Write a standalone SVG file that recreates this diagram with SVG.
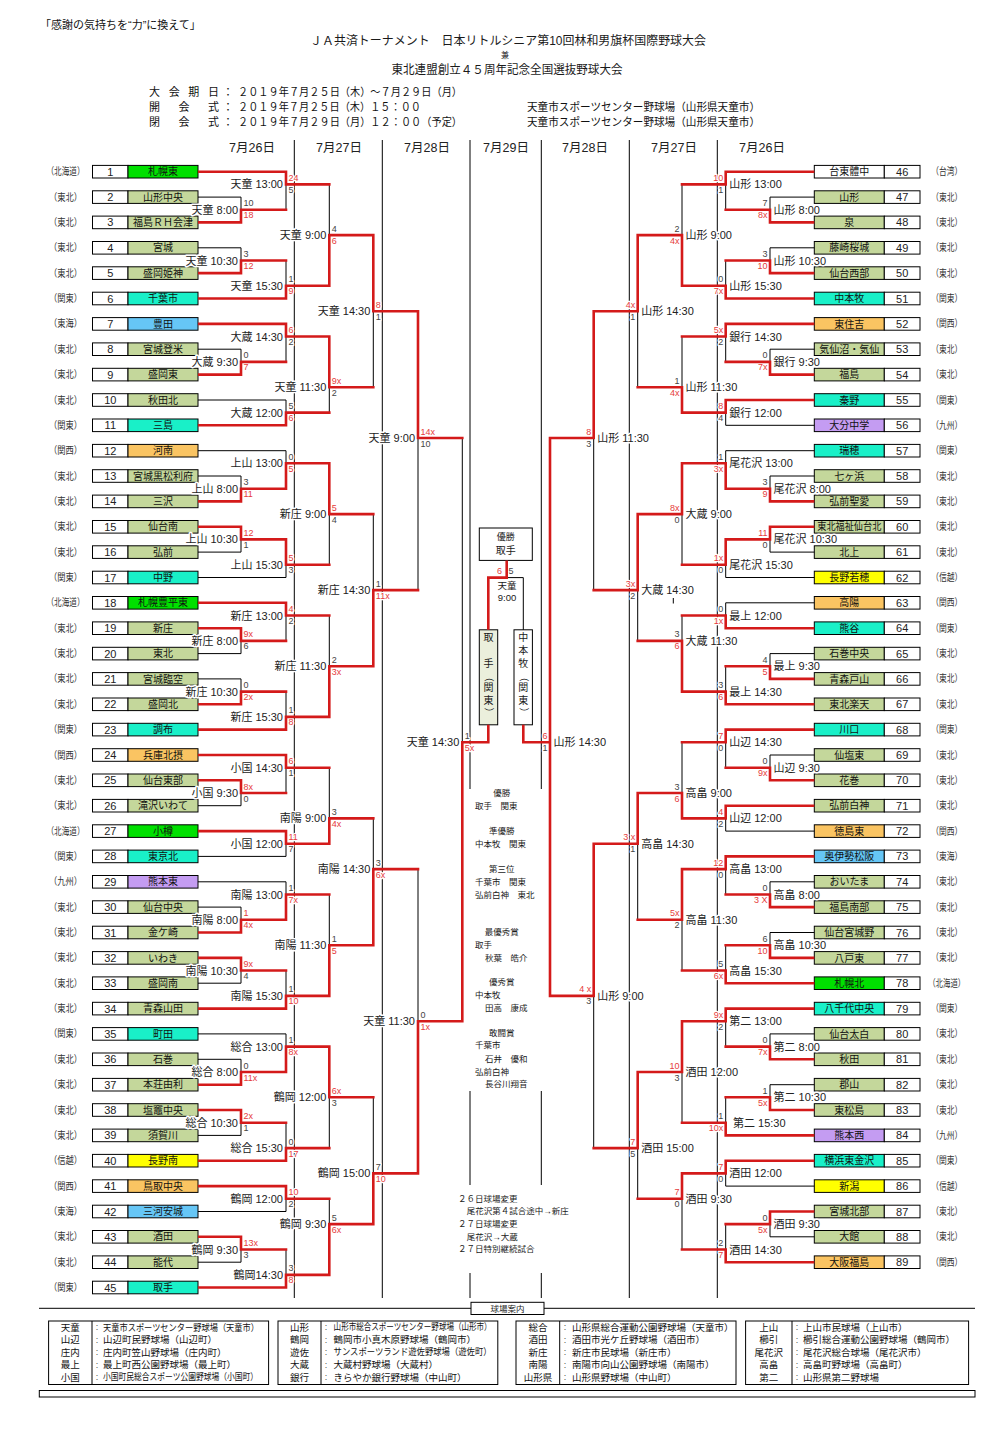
<svg xmlns="http://www.w3.org/2000/svg" width="1008" height="1432" viewBox="0 0 1008 1432">
<style>
text{font-family:"Liberation Sans","Noto Sans CJK JP",sans-serif;fill:#1a1a1a}
.reg{font-size:10px;text-anchor:middle;fill:#333}
.num{font-size:11px;text-anchor:middle;fill:#222}
.nm{font-size:10px;text-anchor:middle;fill:#111}
.b{stroke:#000;stroke-width:1}
.wh{fill:#fff}.ol{fill:#c4d79b}.gr{fill:#00e000}.cy{fill:#19f0c8}.or{fill:#fac462}.bl{fill:#66c6f6}.pu{fill:#c49cf2}.ye{fill:#ffff00}.fg{fill:#ebefdc}
.sep{stroke:#000;stroke-width:1;fill:none}
.bk{stroke:#000;stroke-width:1;fill:none}
.rd{stroke:#d41a1a;stroke-width:2.6;fill:none;stroke-linecap:square}
.lb{font-size:11px;fill:#222;stroke:#fff;stroke-width:3;paint-order:stroke;stroke-linejoin:round}
.s{font-size:9px;fill:#444;stroke:#fff;stroke-width:2.4;paint-order:stroke;stroke-linejoin:round}
.r{fill:#e63b3b}
.e{text-anchor:end}
.c{text-anchor:middle}
.day{font-size:12.5px;text-anchor:middle;fill:#222}
.aw{font-size:8.5px;fill:#222}
.ft{font-size:9.5px;fill:#111}
.co{font-size:7px;fill:#555;text-anchor:middle}
.hd{font-size:11px;fill:#111}
</style>
<rect width="1008" height="1432" fill="#fff"/>

<g id="header">
<text class="hd" x="40" y="29">「感謝の気持ちを“力”に換えて」</text>
<text x="508" y="45" font-size="12" text-anchor="middle" textLength="396" lengthAdjust="spacingAndGlyphs">ＪＡ共済トーナメント　日本リトルシニア第10回林和男旗杯国際野球大会</text>
<text x="505" y="57.5" font-size="8" text-anchor="middle">兼</text>
<text x="507" y="74" font-size="12" text-anchor="middle" textLength="231" lengthAdjust="spacingAndGlyphs">東北連盟創立４５周年記念全国選抜野球大会</text>
<text class="hd" x="149" y="96" textLength="70" lengthAdjust="spacing">大 会 期 日</text>
<text class="hd" x="228" y="96" text-anchor="middle">：</text>
<text class="hd" x="238" y="96" textLength="224" lengthAdjust="spacingAndGlyphs">２０１９年７月２５日（木）～７月２９日（月）</text>
<text class="hd" x="149" y="111" textLength="70" lengthAdjust="spacing">開　会　式</text>
<text class="hd" x="228" y="111" text-anchor="middle">：</text>
<text class="hd" x="238" y="111" textLength="183" lengthAdjust="spacingAndGlyphs">２０１９年７月２５日（木）１５：００</text>
<text class="hd" x="149" y="126" textLength="70" lengthAdjust="spacing">閉　会　式</text>
<text class="hd" x="228" y="126" text-anchor="middle">：</text>
<text class="hd" x="238" y="126" textLength="224" lengthAdjust="spacingAndGlyphs">２０１９年７月２９日（月）１２：００（予定）</text>
<text class="hd" x="527" y="111" textLength="233" lengthAdjust="spacingAndGlyphs">天童市スポーツセンター野球場（山形県天童市）</text>
<text class="hd" x="527" y="126" textLength="233" lengthAdjust="spacingAndGlyphs">天童市スポーツセンター野球場（山形県天童市）</text>
</g>

<g id="days">
<text class="day" x="252" y="151.5">7月26日</text>
<text class="day" x="339" y="151.5">7月27日</text>
<text class="day" x="427" y="151.5">7月28日</text>
<text class="day" x="506" y="151.5">7月29日</text>
<text class="day" x="585" y="151.5">7月28日</text>
<text class="day" x="674" y="151.5">7月27日</text>
<text class="day" x="762" y="151.5">7月26日</text>
</g>

<g id="separators">
<path class="sep" d="M294.3,140V1298M382.3,140V1298M629.3,140V1298M717.3,140V1298M470,140V789M470,1091V1185M470,1273V1298M541.3,140V789M541.3,1091V1185M541.3,1273V1298M673.3,598V603.5"/>
</g>

<g id="teams-left">
<g id="t1" transform="translate(0,171.7)"><text class="reg" x="65.5" y="3.5" textLength="38" lengthAdjust="spacingAndGlyphs">（北海道）</text><rect class="b wh" x="92.5" y="-6.3" width="35.5" height="12.6"/><rect class="b gr" x="128" y="-6.3" width="70" height="12.6"/><text class="num" x="110.3" y="4">1</text><text class="nm" x="163" y="3.6">札幌東</text></g>
<g id="t2" transform="translate(0,197.1)"><text class="reg" x="65.5" y="3.5" textLength="33" lengthAdjust="spacingAndGlyphs">（東北）</text><rect class="b wh" x="92.5" y="-6.3" width="35.5" height="12.6"/><rect class="b ol" x="128" y="-6.3" width="70" height="12.6"/><text class="num" x="110.3" y="4">2</text><text class="nm" x="163" y="3.6">山形中央</text></g>
<g id="t3" transform="translate(0,222.4)"><text class="reg" x="65.5" y="3.5" textLength="33" lengthAdjust="spacingAndGlyphs">（東北）</text><rect class="b wh" x="92.5" y="-6.3" width="35.5" height="12.6"/><rect class="b ol" x="128" y="-6.3" width="70" height="12.6"/><text class="num" x="110.3" y="4">3</text><text class="nm" x="163" y="3.6">福島ＲＨ会津</text></g>
<g id="t4" transform="translate(0,247.8)"><text class="reg" x="65.5" y="3.5" textLength="33" lengthAdjust="spacingAndGlyphs">（東北）</text><rect class="b wh" x="92.5" y="-6.3" width="35.5" height="12.6"/><rect class="b ol" x="128" y="-6.3" width="70" height="12.6"/><text class="num" x="110.3" y="4">4</text><text class="nm" x="163" y="3.6">宮城</text></g>
<g id="t5" transform="translate(0,273.1)"><text class="reg" x="65.5" y="3.5" textLength="33" lengthAdjust="spacingAndGlyphs">（東北）</text><rect class="b wh" x="92.5" y="-6.3" width="35.5" height="12.6"/><rect class="b ol" x="128" y="-6.3" width="70" height="12.6"/><text class="num" x="110.3" y="4">5</text><text class="nm" x="163" y="3.6">盛岡姫神</text></g>
<g id="t6" transform="translate(0,298.5)"><text class="reg" x="65.5" y="3.5" textLength="33" lengthAdjust="spacingAndGlyphs">（関東）</text><rect class="b wh" x="92.5" y="-6.3" width="35.5" height="12.6"/><rect class="b cy" x="128" y="-6.3" width="70" height="12.6"/><text class="num" x="110.3" y="4">6</text><text class="nm" x="163" y="3.6">千葉市</text></g>
<g id="t7" transform="translate(0,323.9)"><text class="reg" x="65.5" y="3.5" textLength="33" lengthAdjust="spacingAndGlyphs">（東海）</text><rect class="b wh" x="92.5" y="-6.3" width="35.5" height="12.6"/><rect class="b bl" x="128" y="-6.3" width="70" height="12.6"/><text class="num" x="110.3" y="4">7</text><text class="nm" x="163" y="3.6">豊田</text></g>
<g id="t8" transform="translate(0,349.2)"><text class="reg" x="65.5" y="3.5" textLength="33" lengthAdjust="spacingAndGlyphs">（東北）</text><rect class="b wh" x="92.5" y="-6.3" width="35.5" height="12.6"/><rect class="b ol" x="128" y="-6.3" width="70" height="12.6"/><text class="num" x="110.3" y="4">8</text><text class="nm" x="163" y="3.6">宮城登米</text></g>
<g id="t9" transform="translate(0,374.6)"><text class="reg" x="65.5" y="3.5" textLength="33" lengthAdjust="spacingAndGlyphs">（東北）</text><rect class="b wh" x="92.5" y="-6.3" width="35.5" height="12.6"/><rect class="b ol" x="128" y="-6.3" width="70" height="12.6"/><text class="num" x="110.3" y="4">9</text><text class="nm" x="163" y="3.6">盛岡東</text></g>
<g id="t10" transform="translate(0,400)"><text class="reg" x="65.5" y="3.5" textLength="33" lengthAdjust="spacingAndGlyphs">（東北）</text><rect class="b wh" x="92.5" y="-6.3" width="35.5" height="12.6"/><rect class="b ol" x="128" y="-6.3" width="70" height="12.6"/><text class="num" x="110.3" y="4">10</text><text class="nm" x="163" y="3.6">秋田北</text></g>
<g id="t11" transform="translate(0,425.3)"><text class="reg" x="65.5" y="3.5" textLength="33" lengthAdjust="spacingAndGlyphs">（関東）</text><rect class="b wh" x="92.5" y="-6.3" width="35.5" height="12.6"/><rect class="b cy" x="128" y="-6.3" width="70" height="12.6"/><text class="num" x="110.3" y="4">11</text><text class="nm" x="163" y="3.6">三島</text></g>
<g id="t12" transform="translate(0,450.7)"><text class="reg" x="65.5" y="3.5" textLength="33" lengthAdjust="spacingAndGlyphs">（関西）</text><rect class="b wh" x="92.5" y="-6.3" width="35.5" height="12.6"/><rect class="b or" x="128" y="-6.3" width="70" height="12.6"/><text class="num" x="110.3" y="4">12</text><text class="nm" x="163" y="3.6">河南</text></g>
<g id="t13" transform="translate(0,476)"><text class="reg" x="65.5" y="3.5" textLength="33" lengthAdjust="spacingAndGlyphs">（東北）</text><rect class="b wh" x="92.5" y="-6.3" width="35.5" height="12.6"/><rect class="b ol" x="128" y="-6.3" width="70" height="12.6"/><text class="num" x="110.3" y="4">13</text><text class="nm" x="163" y="3.6">宮城黒松利府</text></g>
<g id="t14" transform="translate(0,501.4)"><text class="reg" x="65.5" y="3.5" textLength="33" lengthAdjust="spacingAndGlyphs">（東北）</text><rect class="b wh" x="92.5" y="-6.3" width="35.5" height="12.6"/><rect class="b ol" x="128" y="-6.3" width="70" height="12.6"/><text class="num" x="110.3" y="4">14</text><text class="nm" x="163" y="3.6">三沢</text></g>
<g id="t15" transform="translate(0,526.8)"><text class="reg" x="65.5" y="3.5" textLength="33" lengthAdjust="spacingAndGlyphs">（東北）</text><rect class="b wh" x="92.5" y="-6.3" width="35.5" height="12.6"/><rect class="b ol" x="128" y="-6.3" width="70" height="12.6"/><text class="num" x="110.3" y="4">15</text><text class="nm" x="163" y="3.6">仙台南</text></g>
<g id="t16" transform="translate(0,552.1)"><text class="reg" x="65.5" y="3.5" textLength="33" lengthAdjust="spacingAndGlyphs">（東北）</text><rect class="b wh" x="92.5" y="-6.3" width="35.5" height="12.6"/><rect class="b ol" x="128" y="-6.3" width="70" height="12.6"/><text class="num" x="110.3" y="4">16</text><text class="nm" x="163" y="3.6">弘前</text></g>
<g id="t17" transform="translate(0,577.5)"><text class="reg" x="65.5" y="3.5" textLength="33" lengthAdjust="spacingAndGlyphs">（関東）</text><rect class="b wh" x="92.5" y="-6.3" width="35.5" height="12.6"/><rect class="b cy" x="128" y="-6.3" width="70" height="12.6"/><text class="num" x="110.3" y="4">17</text><text class="nm" x="163" y="3.6">中野</text></g>
<g id="t18" transform="translate(0,602.8)"><text class="reg" x="65.5" y="3.5" textLength="38" lengthAdjust="spacingAndGlyphs">（北海道）</text><rect class="b wh" x="92.5" y="-6.3" width="35.5" height="12.6"/><rect class="b gr" x="128" y="-6.3" width="70" height="12.6"/><text class="num" x="110.3" y="4">18</text><text class="nm" x="163" y="3.6">札幌豊平東</text></g>
<g id="t19" transform="translate(0,628.2)"><text class="reg" x="65.5" y="3.5" textLength="33" lengthAdjust="spacingAndGlyphs">（東北）</text><rect class="b wh" x="92.5" y="-6.3" width="35.5" height="12.6"/><rect class="b ol" x="128" y="-6.3" width="70" height="12.6"/><text class="num" x="110.3" y="4">19</text><text class="nm" x="163" y="3.6">新庄</text></g>
<g id="t20" transform="translate(0,653.6)"><text class="reg" x="65.5" y="3.5" textLength="33" lengthAdjust="spacingAndGlyphs">（東北）</text><rect class="b wh" x="92.5" y="-6.3" width="35.5" height="12.6"/><rect class="b ol" x="128" y="-6.3" width="70" height="12.6"/><text class="num" x="110.3" y="4">20</text><text class="nm" x="163" y="3.6">東北</text></g>
<g id="t21" transform="translate(0,678.9)"><text class="reg" x="65.5" y="3.5" textLength="33" lengthAdjust="spacingAndGlyphs">（東北）</text><rect class="b wh" x="92.5" y="-6.3" width="35.5" height="12.6"/><rect class="b ol" x="128" y="-6.3" width="70" height="12.6"/><text class="num" x="110.3" y="4">21</text><text class="nm" x="163" y="3.6">宮城臨空</text></g>
<g id="t22" transform="translate(0,704.3)"><text class="reg" x="65.5" y="3.5" textLength="33" lengthAdjust="spacingAndGlyphs">（東北）</text><rect class="b wh" x="92.5" y="-6.3" width="35.5" height="12.6"/><rect class="b ol" x="128" y="-6.3" width="70" height="12.6"/><text class="num" x="110.3" y="4">22</text><text class="nm" x="163" y="3.6">盛岡北</text></g>
<g id="t23" transform="translate(0,729.6)"><text class="reg" x="65.5" y="3.5" textLength="33" lengthAdjust="spacingAndGlyphs">（関東）</text><rect class="b wh" x="92.5" y="-6.3" width="35.5" height="12.6"/><rect class="b cy" x="128" y="-6.3" width="70" height="12.6"/><text class="num" x="110.3" y="4">23</text><text class="nm" x="163" y="3.6">調布</text></g>
<g id="t24" transform="translate(0,755)"><text class="reg" x="65.5" y="3.5" textLength="33" lengthAdjust="spacingAndGlyphs">（関西）</text><rect class="b wh" x="92.5" y="-6.3" width="35.5" height="12.6"/><rect class="b or" x="128" y="-6.3" width="70" height="12.6"/><text class="num" x="110.3" y="4">24</text><text class="nm" x="163" y="3.6">兵庫北摂</text></g>
<g id="t25" transform="translate(0,780.3)"><text class="reg" x="65.5" y="3.5" textLength="33" lengthAdjust="spacingAndGlyphs">（東北）</text><rect class="b wh" x="92.5" y="-6.3" width="35.5" height="12.6"/><rect class="b ol" x="128" y="-6.3" width="70" height="12.6"/><text class="num" x="110.3" y="4">25</text><text class="nm" x="163" y="3.6">仙台東部</text></g>
<g id="t26" transform="translate(0,805.7)"><text class="reg" x="65.5" y="3.5" textLength="33" lengthAdjust="spacingAndGlyphs">（東北）</text><rect class="b wh" x="92.5" y="-6.3" width="35.5" height="12.6"/><rect class="b ol" x="128" y="-6.3" width="70" height="12.6"/><text class="num" x="110.3" y="4">26</text><text class="nm" x="163" y="3.6">滝沢いわて</text></g>
<g id="t27" transform="translate(0,831.1)"><text class="reg" x="65.5" y="3.5" textLength="38" lengthAdjust="spacingAndGlyphs">（北海道）</text><rect class="b wh" x="92.5" y="-6.3" width="35.5" height="12.6"/><rect class="b gr" x="128" y="-6.3" width="70" height="12.6"/><text class="num" x="110.3" y="4">27</text><text class="nm" x="163" y="3.6">小樽</text></g>
<g id="t28" transform="translate(0,856.4)"><text class="reg" x="65.5" y="3.5" textLength="33" lengthAdjust="spacingAndGlyphs">（関東）</text><rect class="b wh" x="92.5" y="-6.3" width="35.5" height="12.6"/><rect class="b cy" x="128" y="-6.3" width="70" height="12.6"/><text class="num" x="110.3" y="4">28</text><text class="nm" x="163" y="3.6">東京北</text></g>
<g id="t29" transform="translate(0,881.8)"><text class="reg" x="65.5" y="3.5" textLength="33" lengthAdjust="spacingAndGlyphs">（九州）</text><rect class="b wh" x="92.5" y="-6.3" width="35.5" height="12.6"/><rect class="b pu" x="128" y="-6.3" width="70" height="12.6"/><text class="num" x="110.3" y="4">29</text><text class="nm" x="163" y="3.6">熊本東</text></g>
<g id="t30" transform="translate(0,907.1)"><text class="reg" x="65.5" y="3.5" textLength="33" lengthAdjust="spacingAndGlyphs">（東北）</text><rect class="b wh" x="92.5" y="-6.3" width="35.5" height="12.6"/><rect class="b ol" x="128" y="-6.3" width="70" height="12.6"/><text class="num" x="110.3" y="4">30</text><text class="nm" x="163" y="3.6">仙台中央</text></g>
<g id="t31" transform="translate(0,932.5)"><text class="reg" x="65.5" y="3.5" textLength="33" lengthAdjust="spacingAndGlyphs">（東北）</text><rect class="b wh" x="92.5" y="-6.3" width="35.5" height="12.6"/><rect class="b ol" x="128" y="-6.3" width="70" height="12.6"/><text class="num" x="110.3" y="4">31</text><text class="nm" x="163" y="3.6">金ケ崎</text></g>
<g id="t32" transform="translate(0,957.9)"><text class="reg" x="65.5" y="3.5" textLength="33" lengthAdjust="spacingAndGlyphs">（東北）</text><rect class="b wh" x="92.5" y="-6.3" width="35.5" height="12.6"/><rect class="b ol" x="128" y="-6.3" width="70" height="12.6"/><text class="num" x="110.3" y="4">32</text><text class="nm" x="163" y="3.6">いわき</text></g>
<g id="t33" transform="translate(0,983.2)"><text class="reg" x="65.5" y="3.5" textLength="33" lengthAdjust="spacingAndGlyphs">（東北）</text><rect class="b wh" x="92.5" y="-6.3" width="35.5" height="12.6"/><rect class="b ol" x="128" y="-6.3" width="70" height="12.6"/><text class="num" x="110.3" y="4">33</text><text class="nm" x="163" y="3.6">盛岡南</text></g>
<g id="t34" transform="translate(0,1008.6)"><text class="reg" x="65.5" y="3.5" textLength="33" lengthAdjust="spacingAndGlyphs">（東北）</text><rect class="b wh" x="92.5" y="-6.3" width="35.5" height="12.6"/><rect class="b ol" x="128" y="-6.3" width="70" height="12.6"/><text class="num" x="110.3" y="4">34</text><text class="nm" x="163" y="3.6">青森山田</text></g>
<g id="t35" transform="translate(0,1033.9)"><text class="reg" x="65.5" y="3.5" textLength="33" lengthAdjust="spacingAndGlyphs">（関東）</text><rect class="b wh" x="92.5" y="-6.3" width="35.5" height="12.6"/><rect class="b cy" x="128" y="-6.3" width="70" height="12.6"/><text class="num" x="110.3" y="4">35</text><text class="nm" x="163" y="3.6">町田</text></g>
<g id="t36" transform="translate(0,1059.3)"><text class="reg" x="65.5" y="3.5" textLength="33" lengthAdjust="spacingAndGlyphs">（東北）</text><rect class="b wh" x="92.5" y="-6.3" width="35.5" height="12.6"/><rect class="b ol" x="128" y="-6.3" width="70" height="12.6"/><text class="num" x="110.3" y="4">36</text><text class="nm" x="163" y="3.6">石巻</text></g>
<g id="t37" transform="translate(0,1084.7)"><text class="reg" x="65.5" y="3.5" textLength="33" lengthAdjust="spacingAndGlyphs">（東北）</text><rect class="b wh" x="92.5" y="-6.3" width="35.5" height="12.6"/><rect class="b ol" x="128" y="-6.3" width="70" height="12.6"/><text class="num" x="110.3" y="4">37</text><text class="nm" x="163" y="3.6">本荘由利</text></g>
<g id="t38" transform="translate(0,1110)"><text class="reg" x="65.5" y="3.5" textLength="33" lengthAdjust="spacingAndGlyphs">（東北）</text><rect class="b wh" x="92.5" y="-6.3" width="35.5" height="12.6"/><rect class="b ol" x="128" y="-6.3" width="70" height="12.6"/><text class="num" x="110.3" y="4">38</text><text class="nm" x="163" y="3.6">塩竈中央</text></g>
<g id="t39" transform="translate(0,1135.4)"><text class="reg" x="65.5" y="3.5" textLength="33" lengthAdjust="spacingAndGlyphs">（東北）</text><rect class="b wh" x="92.5" y="-6.3" width="35.5" height="12.6"/><rect class="b ol" x="128" y="-6.3" width="70" height="12.6"/><text class="num" x="110.3" y="4">39</text><text class="nm" x="163" y="3.6">須賀川</text></g>
<g id="t40" transform="translate(0,1160.7)"><text class="reg" x="65.5" y="3.5" textLength="33" lengthAdjust="spacingAndGlyphs">（信越）</text><rect class="b wh" x="92.5" y="-6.3" width="35.5" height="12.6"/><rect class="b ye" x="128" y="-6.3" width="70" height="12.6"/><text class="num" x="110.3" y="4">40</text><text class="nm" x="163" y="3.6">長野南</text></g>
<g id="t41" transform="translate(0,1186.1)"><text class="reg" x="65.5" y="3.5" textLength="33" lengthAdjust="spacingAndGlyphs">（関西）</text><rect class="b wh" x="92.5" y="-6.3" width="35.5" height="12.6"/><rect class="b or" x="128" y="-6.3" width="70" height="12.6"/><text class="num" x="110.3" y="4">41</text><text class="nm" x="163" y="3.6">鳥取中央</text></g>
<g id="t42" transform="translate(0,1211.5)"><text class="reg" x="65.5" y="3.5" textLength="33" lengthAdjust="spacingAndGlyphs">（東海）</text><rect class="b wh" x="92.5" y="-6.3" width="35.5" height="12.6"/><rect class="b bl" x="128" y="-6.3" width="70" height="12.6"/><text class="num" x="110.3" y="4">42</text><text class="nm" x="163" y="3.6">三河安城</text></g>
<g id="t43" transform="translate(0,1236.8)"><text class="reg" x="65.5" y="3.5" textLength="33" lengthAdjust="spacingAndGlyphs">（東北）</text><rect class="b wh" x="92.5" y="-6.3" width="35.5" height="12.6"/><rect class="b ol" x="128" y="-6.3" width="70" height="12.6"/><text class="num" x="110.3" y="4">43</text><text class="nm" x="163" y="3.6">酒田</text></g>
<g id="t44" transform="translate(0,1262.2)"><text class="reg" x="65.5" y="3.5" textLength="33" lengthAdjust="spacingAndGlyphs">（東北）</text><rect class="b wh" x="92.5" y="-6.3" width="35.5" height="12.6"/><rect class="b ol" x="128" y="-6.3" width="70" height="12.6"/><text class="num" x="110.3" y="4">44</text><text class="nm" x="163" y="3.6">能代</text></g>
<g id="t45" transform="translate(0,1287.5)"><text class="reg" x="65.5" y="3.5" textLength="33" lengthAdjust="spacingAndGlyphs">（関東）</text><rect class="b wh" x="92.5" y="-6.3" width="35.5" height="12.6"/><rect class="b cy" x="128" y="-6.3" width="70" height="12.6"/><text class="num" x="110.3" y="4">45</text><text class="nm" x="163" y="3.6">取手</text></g>
</g>

<g id="teams-right">
<g id="t46" transform="translate(0,171.7)"><rect class="b wh" x="814.3" y="-6.3" width="70" height="12.6"/><rect class="b wh" x="884.3" y="-6.3" width="35.7" height="12.6"/><text class="nm" x="849.3" y="3.6">台東體中</text><text class="num" x="902.2" y="4">46</text><text class="reg" x="946.7" y="3.5" textLength="31" lengthAdjust="spacingAndGlyphs">（台湾）</text></g>
<g id="t47" transform="translate(0,197.1)"><rect class="b ol" x="814.3" y="-6.3" width="70" height="12.6"/><rect class="b wh" x="884.3" y="-6.3" width="35.7" height="12.6"/><text class="nm" x="849.3" y="3.6">山形</text><text class="num" x="902.2" y="4">47</text><text class="reg" x="946.7" y="3.5" textLength="31" lengthAdjust="spacingAndGlyphs">（東北）</text></g>
<g id="t48" transform="translate(0,222.4)"><rect class="b ol" x="814.3" y="-6.3" width="70" height="12.6"/><rect class="b wh" x="884.3" y="-6.3" width="35.7" height="12.6"/><text class="nm" x="849.3" y="3.6">泉</text><text class="num" x="902.2" y="4">48</text><text class="reg" x="946.7" y="3.5" textLength="31" lengthAdjust="spacingAndGlyphs">（東北）</text></g>
<g id="t49" transform="translate(0,247.8)"><rect class="b ol" x="814.3" y="-6.3" width="70" height="12.6"/><rect class="b wh" x="884.3" y="-6.3" width="35.7" height="12.6"/><text class="nm" x="849.3" y="3.6">藤崎桜城</text><text class="num" x="902.2" y="4">49</text><text class="reg" x="946.7" y="3.5" textLength="31" lengthAdjust="spacingAndGlyphs">（東北）</text></g>
<g id="t50" transform="translate(0,273.1)"><rect class="b ol" x="814.3" y="-6.3" width="70" height="12.6"/><rect class="b wh" x="884.3" y="-6.3" width="35.7" height="12.6"/><text class="nm" x="849.3" y="3.6">仙台西部</text><text class="num" x="902.2" y="4">50</text><text class="reg" x="946.7" y="3.5" textLength="31" lengthAdjust="spacingAndGlyphs">（東北）</text></g>
<g id="t51" transform="translate(0,298.5)"><rect class="b cy" x="814.3" y="-6.3" width="70" height="12.6"/><rect class="b wh" x="884.3" y="-6.3" width="35.7" height="12.6"/><text class="nm" x="849.3" y="3.6">中本牧</text><text class="num" x="902.2" y="4">51</text><text class="reg" x="946.7" y="3.5" textLength="31" lengthAdjust="spacingAndGlyphs">（関東）</text></g>
<g id="t52" transform="translate(0,323.9)"><rect class="b or" x="814.3" y="-6.3" width="70" height="12.6"/><rect class="b wh" x="884.3" y="-6.3" width="35.7" height="12.6"/><text class="nm" x="849.3" y="3.6">東住吉</text><text class="num" x="902.2" y="4">52</text><text class="reg" x="946.7" y="3.5" textLength="31" lengthAdjust="spacingAndGlyphs">（関西）</text></g>
<g id="t53" transform="translate(0,349.2)"><rect class="b ol" x="814.3" y="-6.3" width="70" height="12.6"/><rect class="b wh" x="884.3" y="-6.3" width="35.7" height="12.6"/><text class="nm" x="849.3" y="3.6">気仙沼・気仙</text><text class="num" x="902.2" y="4">53</text><text class="reg" x="946.7" y="3.5" textLength="31" lengthAdjust="spacingAndGlyphs">（東北）</text></g>
<g id="t54" transform="translate(0,374.6)"><rect class="b ol" x="814.3" y="-6.3" width="70" height="12.6"/><rect class="b wh" x="884.3" y="-6.3" width="35.7" height="12.6"/><text class="nm" x="849.3" y="3.6">福島</text><text class="num" x="902.2" y="4">54</text><text class="reg" x="946.7" y="3.5" textLength="31" lengthAdjust="spacingAndGlyphs">（東北）</text></g>
<g id="t55" transform="translate(0,400)"><rect class="b cy" x="814.3" y="-6.3" width="70" height="12.6"/><rect class="b wh" x="884.3" y="-6.3" width="35.7" height="12.6"/><text class="nm" x="849.3" y="3.6">秦野</text><text class="num" x="902.2" y="4">55</text><text class="reg" x="946.7" y="3.5" textLength="31" lengthAdjust="spacingAndGlyphs">（関東）</text></g>
<g id="t56" transform="translate(0,425.3)"><rect class="b pu" x="814.3" y="-6.3" width="70" height="12.6"/><rect class="b wh" x="884.3" y="-6.3" width="35.7" height="12.6"/><text class="nm" x="849.3" y="3.6">大分中学</text><text class="num" x="902.2" y="4">56</text><text class="reg" x="946.7" y="3.5" textLength="31" lengthAdjust="spacingAndGlyphs">（九州）</text></g>
<g id="t57" transform="translate(0,450.7)"><rect class="b cy" x="814.3" y="-6.3" width="70" height="12.6"/><rect class="b wh" x="884.3" y="-6.3" width="35.7" height="12.6"/><text class="nm" x="849.3" y="3.6">瑞穂</text><text class="num" x="902.2" y="4">57</text><text class="reg" x="946.7" y="3.5" textLength="31" lengthAdjust="spacingAndGlyphs">（関東）</text></g>
<g id="t58" transform="translate(0,476)"><rect class="b ol" x="814.3" y="-6.3" width="70" height="12.6"/><rect class="b wh" x="884.3" y="-6.3" width="35.7" height="12.6"/><text class="nm" x="849.3" y="3.6">七ヶ浜</text><text class="num" x="902.2" y="4">58</text><text class="reg" x="946.7" y="3.5" textLength="31" lengthAdjust="spacingAndGlyphs">（東北）</text></g>
<g id="t59" transform="translate(0,501.4)"><rect class="b ol" x="814.3" y="-6.3" width="70" height="12.6"/><rect class="b wh" x="884.3" y="-6.3" width="35.7" height="12.6"/><text class="nm" x="849.3" y="3.6">弘前聖愛</text><text class="num" x="902.2" y="4">59</text><text class="reg" x="946.7" y="3.5" textLength="31" lengthAdjust="spacingAndGlyphs">（東北）</text></g>
<g id="t60" transform="translate(0,526.8)"><rect class="b ol" x="814.3" y="-6.3" width="70" height="12.6"/><rect class="b wh" x="884.3" y="-6.3" width="35.7" height="12.6"/><text class="nm" x="849.3" y="3.6" textLength="64" lengthAdjust="spacingAndGlyphs">東北福祉仙台北</text><text class="num" x="902.2" y="4">60</text><text class="reg" x="946.7" y="3.5" textLength="31" lengthAdjust="spacingAndGlyphs">（東北）</text></g>
<g id="t61" transform="translate(0,552.1)"><rect class="b ol" x="814.3" y="-6.3" width="70" height="12.6"/><rect class="b wh" x="884.3" y="-6.3" width="35.7" height="12.6"/><text class="nm" x="849.3" y="3.6">北上</text><text class="num" x="902.2" y="4">61</text><text class="reg" x="946.7" y="3.5" textLength="31" lengthAdjust="spacingAndGlyphs">（東北）</text></g>
<g id="t62" transform="translate(0,577.5)"><rect class="b ye" x="814.3" y="-6.3" width="70" height="12.6"/><rect class="b wh" x="884.3" y="-6.3" width="35.7" height="12.6"/><text class="nm" x="849.3" y="3.6">長野若穂</text><text class="num" x="902.2" y="4">62</text><text class="reg" x="946.7" y="3.5" textLength="31" lengthAdjust="spacingAndGlyphs">（信越）</text></g>
<g id="t63" transform="translate(0,602.8)"><rect class="b or" x="814.3" y="-6.3" width="70" height="12.6"/><rect class="b wh" x="884.3" y="-6.3" width="35.7" height="12.6"/><text class="nm" x="849.3" y="3.6">高陽</text><text class="num" x="902.2" y="4">63</text><text class="reg" x="946.7" y="3.5" textLength="31" lengthAdjust="spacingAndGlyphs">（関西）</text></g>
<g id="t64" transform="translate(0,628.2)"><rect class="b cy" x="814.3" y="-6.3" width="70" height="12.6"/><rect class="b wh" x="884.3" y="-6.3" width="35.7" height="12.6"/><text class="nm" x="849.3" y="3.6">熊谷</text><text class="num" x="902.2" y="4">64</text><text class="reg" x="946.7" y="3.5" textLength="31" lengthAdjust="spacingAndGlyphs">（関東）</text></g>
<g id="t65" transform="translate(0,653.6)"><rect class="b ol" x="814.3" y="-6.3" width="70" height="12.6"/><rect class="b wh" x="884.3" y="-6.3" width="35.7" height="12.6"/><text class="nm" x="849.3" y="3.6">石巻中央</text><text class="num" x="902.2" y="4">65</text><text class="reg" x="946.7" y="3.5" textLength="31" lengthAdjust="spacingAndGlyphs">（東北）</text></g>
<g id="t66" transform="translate(0,678.9)"><rect class="b ol" x="814.3" y="-6.3" width="70" height="12.6"/><rect class="b wh" x="884.3" y="-6.3" width="35.7" height="12.6"/><text class="nm" x="849.3" y="3.6">青森戸山</text><text class="num" x="902.2" y="4">66</text><text class="reg" x="946.7" y="3.5" textLength="31" lengthAdjust="spacingAndGlyphs">（東北）</text></g>
<g id="t67" transform="translate(0,704.3)"><rect class="b ol" x="814.3" y="-6.3" width="70" height="12.6"/><rect class="b wh" x="884.3" y="-6.3" width="35.7" height="12.6"/><text class="nm" x="849.3" y="3.6">東北楽天</text><text class="num" x="902.2" y="4">67</text><text class="reg" x="946.7" y="3.5" textLength="31" lengthAdjust="spacingAndGlyphs">（東北）</text></g>
<g id="t68" transform="translate(0,729.6)"><rect class="b cy" x="814.3" y="-6.3" width="70" height="12.6"/><rect class="b wh" x="884.3" y="-6.3" width="35.7" height="12.6"/><text class="nm" x="849.3" y="3.6">川口</text><text class="num" x="902.2" y="4">68</text><text class="reg" x="946.7" y="3.5" textLength="31" lengthAdjust="spacingAndGlyphs">（関東）</text></g>
<g id="t69" transform="translate(0,755)"><rect class="b ol" x="814.3" y="-6.3" width="70" height="12.6"/><rect class="b wh" x="884.3" y="-6.3" width="35.7" height="12.6"/><text class="nm" x="849.3" y="3.6">仙塩東</text><text class="num" x="902.2" y="4">69</text><text class="reg" x="946.7" y="3.5" textLength="31" lengthAdjust="spacingAndGlyphs">（東北）</text></g>
<g id="t70" transform="translate(0,780.3)"><rect class="b ol" x="814.3" y="-6.3" width="70" height="12.6"/><rect class="b wh" x="884.3" y="-6.3" width="35.7" height="12.6"/><text class="nm" x="849.3" y="3.6">花巻</text><text class="num" x="902.2" y="4">70</text><text class="reg" x="946.7" y="3.5" textLength="31" lengthAdjust="spacingAndGlyphs">（東北）</text></g>
<g id="t71" transform="translate(0,805.7)"><rect class="b ol" x="814.3" y="-6.3" width="70" height="12.6"/><rect class="b wh" x="884.3" y="-6.3" width="35.7" height="12.6"/><text class="nm" x="849.3" y="3.6">弘前白神</text><text class="num" x="902.2" y="4">71</text><text class="reg" x="946.7" y="3.5" textLength="31" lengthAdjust="spacingAndGlyphs">（東北）</text></g>
<g id="t72" transform="translate(0,831.1)"><rect class="b or" x="814.3" y="-6.3" width="70" height="12.6"/><rect class="b wh" x="884.3" y="-6.3" width="35.7" height="12.6"/><text class="nm" x="849.3" y="3.6">徳島東</text><text class="num" x="902.2" y="4">72</text><text class="reg" x="946.7" y="3.5" textLength="31" lengthAdjust="spacingAndGlyphs">（関西）</text></g>
<g id="t73" transform="translate(0,856.4)"><rect class="b bl" x="814.3" y="-6.3" width="70" height="12.6"/><rect class="b wh" x="884.3" y="-6.3" width="35.7" height="12.6"/><text class="nm" x="849.3" y="3.6">奥伊勢松阪</text><text class="num" x="902.2" y="4">73</text><text class="reg" x="946.7" y="3.5" textLength="31" lengthAdjust="spacingAndGlyphs">（東海）</text></g>
<g id="t74" transform="translate(0,881.8)"><rect class="b ol" x="814.3" y="-6.3" width="70" height="12.6"/><rect class="b wh" x="884.3" y="-6.3" width="35.7" height="12.6"/><text class="nm" x="849.3" y="3.6">おいたま</text><text class="num" x="902.2" y="4">74</text><text class="reg" x="946.7" y="3.5" textLength="31" lengthAdjust="spacingAndGlyphs">（東北）</text></g>
<g id="t75" transform="translate(0,907.1)"><rect class="b ol" x="814.3" y="-6.3" width="70" height="12.6"/><rect class="b wh" x="884.3" y="-6.3" width="35.7" height="12.6"/><text class="nm" x="849.3" y="3.6">福島南部</text><text class="num" x="902.2" y="4">75</text><text class="reg" x="946.7" y="3.5" textLength="31" lengthAdjust="spacingAndGlyphs">（東北）</text></g>
<g id="t76" transform="translate(0,932.5)"><rect class="b ol" x="814.3" y="-6.3" width="70" height="12.6"/><rect class="b wh" x="884.3" y="-6.3" width="35.7" height="12.6"/><text class="nm" x="849.3" y="3.6">仙台宮城野</text><text class="num" x="902.2" y="4">76</text><text class="reg" x="946.7" y="3.5" textLength="31" lengthAdjust="spacingAndGlyphs">（東北）</text></g>
<g id="t77" transform="translate(0,957.9)"><rect class="b ol" x="814.3" y="-6.3" width="70" height="12.6"/><rect class="b wh" x="884.3" y="-6.3" width="35.7" height="12.6"/><text class="nm" x="849.3" y="3.6">八戸東</text><text class="num" x="902.2" y="4">77</text><text class="reg" x="946.7" y="3.5" textLength="31" lengthAdjust="spacingAndGlyphs">（東北）</text></g>
<g id="t78" transform="translate(0,983.2)"><rect class="b gr" x="814.3" y="-6.3" width="70" height="12.6"/><rect class="b wh" x="884.3" y="-6.3" width="35.7" height="12.6"/><text class="nm" x="849.3" y="3.6">札幌北</text><text class="num" x="902.2" y="4">78</text><text class="reg" x="946.7" y="3.5" textLength="37" lengthAdjust="spacingAndGlyphs">（北海道）</text></g>
<g id="t79" transform="translate(0,1008.6)"><rect class="b cy" x="814.3" y="-6.3" width="70" height="12.6"/><rect class="b wh" x="884.3" y="-6.3" width="35.7" height="12.6"/><text class="nm" x="849.3" y="3.6">八千代中央</text><text class="num" x="902.2" y="4">79</text><text class="reg" x="946.7" y="3.5" textLength="31" lengthAdjust="spacingAndGlyphs">（関東）</text></g>
<g id="t80" transform="translate(0,1033.9)"><rect class="b ol" x="814.3" y="-6.3" width="70" height="12.6"/><rect class="b wh" x="884.3" y="-6.3" width="35.7" height="12.6"/><text class="nm" x="849.3" y="3.6">仙台太白</text><text class="num" x="902.2" y="4">80</text><text class="reg" x="946.7" y="3.5" textLength="31" lengthAdjust="spacingAndGlyphs">（東北）</text></g>
<g id="t81" transform="translate(0,1059.3)"><rect class="b ol" x="814.3" y="-6.3" width="70" height="12.6"/><rect class="b wh" x="884.3" y="-6.3" width="35.7" height="12.6"/><text class="nm" x="849.3" y="3.6">秋田</text><text class="num" x="902.2" y="4">81</text><text class="reg" x="946.7" y="3.5" textLength="31" lengthAdjust="spacingAndGlyphs">（東北）</text></g>
<g id="t82" transform="translate(0,1084.7)"><rect class="b ol" x="814.3" y="-6.3" width="70" height="12.6"/><rect class="b wh" x="884.3" y="-6.3" width="35.7" height="12.6"/><text class="nm" x="849.3" y="3.6">郡山</text><text class="num" x="902.2" y="4">82</text><text class="reg" x="946.7" y="3.5" textLength="31" lengthAdjust="spacingAndGlyphs">（東北）</text></g>
<g id="t83" transform="translate(0,1110)"><rect class="b ol" x="814.3" y="-6.3" width="70" height="12.6"/><rect class="b wh" x="884.3" y="-6.3" width="35.7" height="12.6"/><text class="nm" x="849.3" y="3.6">東松島</text><text class="num" x="902.2" y="4">83</text><text class="reg" x="946.7" y="3.5" textLength="31" lengthAdjust="spacingAndGlyphs">（東北）</text></g>
<g id="t84" transform="translate(0,1135.4)"><rect class="b pu" x="814.3" y="-6.3" width="70" height="12.6"/><rect class="b wh" x="884.3" y="-6.3" width="35.7" height="12.6"/><text class="nm" x="849.3" y="3.6">熊本西</text><text class="num" x="902.2" y="4">84</text><text class="reg" x="946.7" y="3.5" textLength="31" lengthAdjust="spacingAndGlyphs">（九州）</text></g>
<g id="t85" transform="translate(0,1160.7)"><rect class="b cy" x="814.3" y="-6.3" width="70" height="12.6"/><rect class="b wh" x="884.3" y="-6.3" width="35.7" height="12.6"/><text class="nm" x="849.3" y="3.6">横浜東金沢</text><text class="num" x="902.2" y="4">85</text><text class="reg" x="946.7" y="3.5" textLength="31" lengthAdjust="spacingAndGlyphs">（関東）</text></g>
<g id="t86" transform="translate(0,1186.1)"><rect class="b ye" x="814.3" y="-6.3" width="70" height="12.6"/><rect class="b wh" x="884.3" y="-6.3" width="35.7" height="12.6"/><text class="nm" x="849.3" y="3.6">新潟</text><text class="num" x="902.2" y="4">86</text><text class="reg" x="946.7" y="3.5" textLength="31" lengthAdjust="spacingAndGlyphs">（信越）</text></g>
<g id="t87" transform="translate(0,1211.5)"><rect class="b ol" x="814.3" y="-6.3" width="70" height="12.6"/><rect class="b wh" x="884.3" y="-6.3" width="35.7" height="12.6"/><text class="nm" x="849.3" y="3.6">宮城北部</text><text class="num" x="902.2" y="4">87</text><text class="reg" x="946.7" y="3.5" textLength="31" lengthAdjust="spacingAndGlyphs">（東北）</text></g>
<g id="t88" transform="translate(0,1236.8)"><rect class="b ol" x="814.3" y="-6.3" width="70" height="12.6"/><rect class="b wh" x="884.3" y="-6.3" width="35.7" height="12.6"/><text class="nm" x="849.3" y="3.6">大館</text><text class="num" x="902.2" y="4">88</text><text class="reg" x="946.7" y="3.5" textLength="31" lengthAdjust="spacingAndGlyphs">（東北）</text></g>
<g id="t89" transform="translate(0,1262.2)"><rect class="b or" x="814.3" y="-6.3" width="70" height="12.6"/><rect class="b wh" x="884.3" y="-6.3" width="35.7" height="12.6"/><text class="nm" x="849.3" y="3.6">大阪福島</text><text class="num" x="902.2" y="4">89</text><text class="reg" x="946.7" y="3.5" textLength="31" lengthAdjust="spacingAndGlyphs">（関西）</text></g>
</g>

<g id="games-left">
<text class="lb e" x="238" y="213.7">天童 8:00</text><text class="s" x="243.5" y="206.2">10</text><text class="s r" x="243.5" y="218.2">18</text>
<text class="lb e" x="283" y="188.4">天童 13:00</text><text class="s r" x="288.5" y="180.9">24</text><text class="s" x="288.5" y="192.9">5</text>
<text class="lb e" x="238" y="264.5">天童 10:30</text><text class="s" x="243.5" y="257">3</text><text class="s r" x="243.5" y="269">12</text>
<text class="lb e" x="283" y="289.8">天童 15:30</text><text class="s" x="288.5" y="282.3">1</text><text class="s r" x="288.5" y="294.3">9</text>
<text class="lb e" x="326.3" y="239.1">天童 9:00</text><text class="s" x="331.8" y="231.6">4</text><text class="s r" x="331.8" y="243.6">6</text>
<text class="lb e" x="238" y="365.9">大蔵 9:30</text><text class="s" x="243.5" y="358.4">0</text><text class="s r" x="243.5" y="370.4">7</text>
<text class="lb e" x="283" y="340.5">大蔵 14:30</text><text class="s r" x="288.5" y="333">6</text><text class="s" x="288.5" y="345">2</text>
<text class="lb e" x="283" y="416.6">大蔵 12:00</text><text class="s" x="288.5" y="409.1">5</text><text class="s r" x="288.5" y="421.1">6</text>
<text class="lb e" x="326.3" y="391.3">天童 11:30</text><text class="s r" x="331.8" y="383.8">9x</text><text class="s" x="331.8" y="395.8">2</text>
<text class="lb e" x="370.3" y="315.2">天童 14:30</text><text class="s r" x="375.8" y="307.7">8</text><text class="s" x="375.8" y="319.7">1</text>
<text class="lb e" x="238" y="492.7">上山 8:00</text><text class="s" x="243.5" y="485.2">3</text><text class="s r" x="243.5" y="497.2">11</text>
<text class="lb e" x="283" y="467.3">上山 13:00</text><text class="s" x="288.5" y="459.8">0</text><text class="s r" x="288.5" y="471.8">5</text>
<text class="lb e" x="238" y="543.4">上山 10:30</text><text class="s r" x="243.5" y="535.9">12</text><text class="s" x="243.5" y="547.9">1</text>
<text class="lb e" x="283" y="568.8">上山 15:30</text><text class="s r" x="288.5" y="561.3">5</text><text class="s" x="288.5" y="573.3">3</text>
<text class="lb e" x="326.3" y="518.1">新庄 9:00</text><text class="s r" x="331.8" y="510.6">5</text><text class="s" x="331.8" y="522.6">4</text>
<text class="lb e" x="238" y="644.9">新庄 8:00</text><text class="s r" x="243.5" y="637.4">9x</text><text class="s" x="243.5" y="649.4">6</text>
<text class="lb e" x="283" y="619.5">新庄 13:00</text><text class="s r" x="288.5" y="612">4</text><text class="s" x="288.5" y="624">2</text>
<text class="lb e" x="238" y="695.6">新庄 10:30</text><text class="s" x="243.5" y="688.1">0</text><text class="s r" x="243.5" y="700.1">2x</text>
<text class="lb e" x="283" y="720.9">新庄 15:30</text><text class="s" x="288.5" y="713.4">1</text><text class="s r" x="288.5" y="725.4">8</text>
<text class="lb e" x="326.3" y="670.2">新庄 11:30</text><text class="s" x="331.8" y="662.7">2</text><text class="s r" x="331.8" y="674.7">3x</text>
<text class="lb e" x="370.3" y="594.1">新庄 14:30</text><text class="s" x="375.8" y="586.6">1</text><text class="s r" x="375.8" y="598.6">11x</text>
<text class="lb e" x="415" y="442">天童 9:00</text><text class="s r" x="420.5" y="434.5">14x</text><text class="s" x="420.5" y="446.5">10</text>
<text class="lb e" x="238" y="797">小国 9:30</text><text class="s r" x="243.5" y="789.5">8x</text><text class="s" x="243.5" y="801.5">0</text>
<text class="lb e" x="283" y="771.7">小国 14:30</text><text class="s r" x="288.5" y="764.2">6</text><text class="s" x="288.5" y="776.2">1</text>
<text class="lb e" x="283" y="847.7">小国 12:00</text><text class="s r" x="288.5" y="840.2">11</text><text class="s" x="288.5" y="852.2">7</text>
<text class="lb e" x="326.3" y="822.4">南陽 9:00</text><text class="s" x="331.8" y="814.9">3</text><text class="s r" x="331.8" y="826.9">4x</text>
<text class="lb e" x="238" y="923.8">南陽 8:00</text><text class="s r" x="243.5" y="916.3">1</text><text class="s r" x="243.5" y="928.3">4x</text>
<text class="lb e" x="283" y="898.5">南陽 13:00</text><text class="s" x="288.5" y="891">1</text><text class="s r" x="288.5" y="903">7x</text>
<text class="lb e" x="238" y="974.5">南陽 10:30</text><text class="s r" x="243.5" y="967">9x</text><text class="s" x="243.5" y="979">4</text>
<text class="lb e" x="283" y="999.9">南陽 15:30</text><text class="s" x="288.5" y="992.4">1</text><text class="s r" x="288.5" y="1004.4">10</text>
<text class="lb e" x="326.3" y="949.2">南陽 11:30</text><text class="s" x="331.8" y="941.7">1</text><text class="s r" x="331.8" y="953.7">5</text>
<text class="lb e" x="370.3" y="873.1">南陽 14:30</text><text class="s" x="375.8" y="865.6">3</text><text class="s r" x="375.8" y="877.6">6x</text>
<text class="lb e" x="238" y="1076">総合 8:00</text><text class="s" x="243.5" y="1068.5">0</text><text class="s r" x="243.5" y="1080.5">11x</text>
<text class="lb e" x="283" y="1050.6">総合 13:00</text><text class="s" x="288.5" y="1043.1">1</text><text class="s r" x="288.5" y="1055.1">8x</text>
<text class="lb e" x="238" y="1126.7">総合 10:30</text><text class="s r" x="243.5" y="1119.2">2x</text><text class="s" x="243.5" y="1131.2">1</text>
<text class="lb e" x="283" y="1152.1">総合 15:30</text><text class="s" x="288.5" y="1144.6">0</text><text class="s r" x="288.5" y="1156.6">17</text>
<text class="lb e" x="326.3" y="1101.3">鶴岡 12:00</text><text class="s r" x="331.8" y="1093.8">6x</text><text class="s" x="331.8" y="1105.8">3</text>
<text class="lb e" x="283" y="1202.8">鶴岡 12:00</text><text class="s r" x="288.5" y="1195.3">10</text><text class="s" x="288.5" y="1207.3">2</text>
<text class="lb e" x="238" y="1253.5">鶴岡 9:30</text><text class="s r" x="243.5" y="1246">13x</text><text class="s" x="243.5" y="1258">3</text>
<text class="lb e" x="283" y="1278.9">鶴岡14:30</text><text class="s" x="288.5" y="1271.4">3</text><text class="s r" x="288.5" y="1283.4">8</text>
<text class="lb e" x="326.3" y="1228.1">鶴岡 9:30</text><text class="s" x="331.8" y="1220.6">5</text><text class="s r" x="331.8" y="1232.6">6x</text>
<text class="lb e" x="370.3" y="1177.4">鶴岡 15:00</text><text class="s" x="375.8" y="1169.9">7</text><text class="s r" x="375.8" y="1181.9">10</text>
<text class="lb e" x="415" y="1025.3">天童 11:30</text><text class="s" x="420.5" y="1017.8">0</text><text class="s r" x="420.5" y="1029.8">1x</text>
<text class="lb e" x="459.3" y="746.3">天童 14:30</text><text class="s" x="464.8" y="738.8">1</text><text class="s r" x="464.8" y="750.8">5x</text>
</g>

<g id="games-right">
<text class="lb" x="773.5" y="213.7">山形 8:00</text><text class="s e" x="767.5" y="206.2">7</text><text class="s r e" x="767.5" y="218.2">8x</text>
<text class="lb" x="729.2" y="188.4">山形 13:00</text><text class="s r e" x="723.2" y="180.9">10</text><text class="s e" x="723.2" y="192.9">1</text>
<text class="lb" x="773.5" y="264.5">山形 10:30</text><text class="s e" x="767.5" y="257">3</text><text class="s r e" x="767.5" y="269">10</text>
<text class="lb" x="729.2" y="289.8">山形 15:30</text><text class="s e" x="723.2" y="282.3">0</text><text class="s r e" x="723.2" y="294.3">7x</text>
<text class="lb" x="685.5" y="239.1">山形 9:00</text><text class="s e" x="679.5" y="231.6">2</text><text class="s r e" x="679.5" y="243.6">4x</text>
<text class="lb" x="773.5" y="365.9">銀行 9:30</text><text class="s e" x="767.5" y="358.4">0</text><text class="s r e" x="767.5" y="370.4">7x</text>
<text class="lb" x="729.2" y="340.5">銀行 14:30</text><text class="s r e" x="723.2" y="333">5x</text><text class="s e" x="723.2" y="345">2</text>
<text class="lb" x="729.2" y="416.6">銀行 12:00</text><text class="s r e" x="723.2" y="409.1">8</text><text class="s e" x="723.2" y="421.1">4</text>
<text class="lb" x="685.5" y="391.3">山形 11:30</text><text class="s e" x="679.5" y="383.8">1</text><text class="s r e" x="679.5" y="395.8">4x</text>
<text class="lb" x="641.2" y="315.2">山形 14:30</text><text class="s r e" x="635.2" y="307.7">4x</text><text class="s e" x="635.2" y="319.7">1</text>
<text class="lb" x="773.5" y="492.7">尾花沢 8:00</text><text class="s e" x="767.5" y="485.2">3</text><text class="s r e" x="767.5" y="497.2">9</text>
<text class="lb" x="729.2" y="467.3">尾花沢 13:00</text><text class="s e" x="723.2" y="459.8">1</text><text class="s r e" x="723.2" y="471.8">3x</text>
<text class="lb" x="773.5" y="543.4">尾花沢 10:30</text><text class="s r e" x="767.5" y="535.9">11</text><text class="s e" x="767.5" y="547.9">0</text>
<text class="lb" x="729.2" y="568.8">尾花沢 15:30</text><text class="s r e" x="723.2" y="561.3">1x</text><text class="s e" x="723.2" y="573.3">0</text>
<text class="lb" x="685.5" y="518.1">大蔵 9:00</text><text class="s r e" x="679.5" y="510.6">8x</text><text class="s e" x="679.5" y="522.6">0</text>
<text class="lb" x="729.2" y="619.5">最上 12:00</text><text class="s e" x="723.2" y="612">0</text><text class="s r e" x="723.2" y="624">1x</text>
<text class="lb" x="773.5" y="670.2">最上 9:30</text><text class="s e" x="767.5" y="662.7">4</text><text class="s r e" x="767.5" y="674.7">5</text>
<text class="lb" x="729.2" y="695.6">最上 14:30</text><text class="s e" x="723.2" y="688.1">3</text><text class="s r e" x="723.2" y="700.1">6</text>
<text class="lb" x="685.5" y="644.9">大蔵 11:30</text><text class="s e" x="679.5" y="637.4">3</text><text class="s r e" x="679.5" y="649.4">6</text>
<text class="lb" x="641.2" y="594.1">大蔵 14:30</text><text class="s r e" x="635.2" y="586.6">3x</text><text class="s e" x="635.2" y="598.6">2</text>
<text class="lb" x="597.2" y="442">山形 11:30</text><text class="s r e" x="591.2" y="434.5">8</text><text class="s e" x="591.2" y="446.5">3</text>
<text class="lb" x="773.5" y="771.7">山辺 9:30</text><text class="s e" x="767.5" y="764.2">0</text><text class="s r e" x="767.5" y="776.2">9x</text>
<text class="lb" x="729.2" y="746.3">山辺 14:30</text><text class="s r e" x="723.2" y="738.8">7</text><text class="s e" x="723.2" y="750.8">0</text>
<text class="lb" x="729.2" y="822.4">山辺 12:00</text><text class="s r e" x="723.2" y="814.9">4</text><text class="s e" x="723.2" y="826.9">2</text>
<text class="lb" x="685.5" y="797">高畠 9:00</text><text class="s e" x="679.5" y="789.5">3</text><text class="s r e" x="679.5" y="801.5">6</text>
<text class="lb" x="773.5" y="898.5">高畠 8:00</text><text class="s e" x="767.5" y="891">0</text><text class="s r e" x="767.5" y="903">3 X</text>
<text class="lb" x="729.2" y="873.1">高畠 13:00</text><text class="s r e" x="723.2" y="865.6">12</text><text class="s e" x="723.2" y="877.6">0</text>
<text class="lb" x="773.5" y="949.2">高畠 10:30</text><text class="s e" x="767.5" y="941.7">6</text><text class="s r e" x="767.5" y="953.7">10</text>
<text class="lb" x="729.2" y="974.5">高畠 15:30</text><text class="s e" x="723.2" y="967">5</text><text class="s r e" x="723.2" y="979">6x</text>
<text class="lb" x="685.5" y="923.8">高畠 11:30</text><text class="s r e" x="679.5" y="916.3">5x</text><text class="s e" x="679.5" y="928.3">2</text>
<text class="lb" x="641.2" y="847.7">高畠 14:30</text><text class="s r e" x="635.2" y="840.2">3 x</text><text class="s e" x="635.2" y="852.2">1</text>
<text class="lb" x="597.2" y="999.9">山形 9:00</text><text class="s r e" x="591.2" y="992.4">4 x</text><text class="s e" x="591.2" y="1004.4">3</text>
<text class="lb" x="773.5" y="1050.6">第二 8:00</text><text class="s e" x="767.5" y="1043.1">0</text><text class="s r e" x="767.5" y="1055.1">7x</text>
<text class="lb" x="729.2" y="1025.3">第二 13:00</text><text class="s r e" x="723.2" y="1017.8">9x</text><text class="s e" x="723.2" y="1029.8">2</text>
<text class="lb" x="773.5" y="1101.3">第二 10:30</text><text class="s e" x="767.5" y="1093.8">1</text><text class="s r e" x="767.5" y="1105.8">5x</text>
<text class="lb" x="733" y="1126.7">第二 15:30</text><text class="s e" x="723.2" y="1119.2">1</text><text class="s r e" x="723.2" y="1131.2">10x</text>
<text class="lb" x="685.5" y="1076">酒田 12:00</text><text class="s r e" x="679.5" y="1068.5">10</text><text class="s e" x="679.5" y="1080.5">3</text>
<text class="lb" x="729.2" y="1177.4">酒田 12:00</text><text class="s r e" x="723.2" y="1169.9">7</text><text class="s e" x="723.2" y="1181.9">0</text>
<text class="lb" x="773.5" y="1228.1">酒田 9:30</text><text class="s e" x="767.5" y="1220.6">0</text><text class="s r e" x="767.5" y="1232.6">5x</text>
<text class="lb" x="729.2" y="1253.5">酒田 14:30</text><text class="s e" x="723.2" y="1246">2</text><text class="s r e" x="723.2" y="1258">7</text>
<text class="lb" x="685.5" y="1202.8">酒田 9:30</text><text class="s r e" x="679.5" y="1195.3">7</text><text class="s e" x="679.5" y="1207.3">0</text>
<text class="lb" x="641.2" y="1152.1">酒田 15:00</text><text class="s r e" x="635.2" y="1144.6">7</text><text class="s e" x="635.2" y="1156.6">5</text>
<text class="lb" x="553.5" y="746.3">山形 14:30</text><text class="s r e" x="547.5" y="738.8">6</text><text class="s e" x="547.5" y="750.8">1</text>
</g>

<g id="final">
<g id="champion"><rect class="b wh" x="479.3" y="528" width="53" height="32.4"/><text class="c" x="505.8" y="540" font-size="9">優勝</text><text class="c" x="505.8" y="554" font-size="10">取手</text></g>
<text class="s r c" x="499.5" y="574.3">6</text><text class="s c" x="511" y="574.3">5</text>
<text class="c" x="507" y="589" font-size="9.5">天童</text>
<text class="c" x="507" y="600.5" font-size="9.5">9:00</text>
<g id="finalist-toride"><rect class="b fg" x="479.3" y="629.8" width="18.4" height="95"/>
<text class="c" x="488.5" y="641.2" font-size="10">取</text><text class="c" x="488.5" y="667.3" font-size="10">手</text><text class="c" font-size="10" transform="translate(488.5,676.8) rotate(90)" y="3.5">（</text><text class="c" x="488.5" y="690.8" font-size="10">関</text><text class="c" x="488.5" y="703.9" font-size="10">東</text><text class="c" font-size="10" transform="translate(488.5,712.5) rotate(90)" y="3.5">）</text></g>
<g id="finalist-nakahonmoku"><rect class="b wh" x="514" y="629.8" width="18.4" height="95"/>
<text class="c" x="523.2" y="641.2" font-size="10">中</text><text class="c" x="523.2" y="654.3" font-size="10">本</text><text class="c" x="523.2" y="667.3" font-size="10">牧</text><text class="c" font-size="10" transform="translate(523.2,676.8) rotate(90)" y="3.5">（</text><text class="c" x="523.2" y="690.8" font-size="10">関</text><text class="c" x="523.2" y="703.9" font-size="10">東</text><text class="c" font-size="10" transform="translate(523.2,712.5) rotate(90)" y="3.5">）</text></g>
</g>

<g id="awards" class="aw">
<text class="c" x="501.7" y="796">優勝</text><text x="475" y="809">取手　関東</text>
<text class="c" x="501.7" y="834">準優勝</text><text x="475" y="847">中本牧　関東</text>
<text class="c" x="501.7" y="872">第三位</text><text x="475" y="885">千葉市　関東</text><text x="475" y="898">弘前白神　東北</text>
<text class="c" x="501.7" y="934.5">最優秀賞</text><text x="475" y="947.5">取手</text><text x="485" y="960.6">秋葉　皓介</text>
<text class="c" x="501.7" y="985">優秀賞</text><text x="475" y="998">中本牧</text><text x="485" y="1011.2">田高　康成</text>
<text class="c" x="501.7" y="1036.2">敢闘賞</text><text x="475" y="1048.3">千葉市</text><text x="485" y="1062.3">石井　優和</text><text x="475" y="1075.4">弘前白神</text><text x="485" y="1087.4">長谷川翔音</text>
</g>
<g id="notes" class="aw">
<text x="458" y="1202.2">２６日球場変更</text>
<text x="466.7" y="1213.7">尾花沢第４試合途中→新庄</text>
<text x="458" y="1226.7">２７日球場変更</text>
<text x="466.7" y="1239.8">尾花沢→大蔵</text>
<text x="458" y="1251.8">２７日特別継続試合</text>
</g>

<g id="connectors">
<path class="bk" d="M198,197.1H241M198,247.8H241M198,349.2H241M198,400H286M198,450.7H286M198,476H241M198,552.1H241M198,577.5H286M198,653.6H241M198,678.9H241M198,805.7H241M198,856.4H286M198,881.8H286M198,907.1H241M198,983.2H241M198,1033.9H286M198,1059.3H241M198,1135.4H241M198,1211.5H286M198,1262.2H241
M241,197.1V209.7M286,209.7V184.4M241,247.8V260.5M286,260.5V285.8M329.3,184.4V235.1M241,349.2V361.9M286,361.9V336.5M286,400V412.6M329.3,412.6V387.3M373.3,387.3V311.2M241,476V488.7M286,450.7V463.3M241,552.1V539.4M286,577.5V564.8M329.3,564.8V514.1M241,653.6V640.9M286,640.9V615.5M241,678.9V691.6M286,691.6V716.9M329.3,615.5V666.2M373.3,514.1V590.1M418,590.1V438M241,805.7V793M286,793V767.7M286,856.4V843.7M329.3,767.7V818.4M241,907.1V919.8M286,881.8V894.5M241,983.2V970.5M286,970.5V995.9M329.3,894.5V945.2M373.3,818.4V869.1M241,1059.3V1072M286,1033.9V1046.6M241,1135.4V1122.7M286,1122.7V1148.1M329.3,1148.1V1097.3M286,1211.5V1198.8M241,1262.2V1249.5M286,1249.5V1274.9M329.3,1198.8V1224.1M373.3,1097.3V1173.4M418,869.1V1021.3M462.3,438V742.3
M814.3,197.1H770M814.3,247.8H770M814.3,349.2H770M814.3,425.3H725.7M814.3,450.7H725.7M814.3,476H770M814.3,552.1H770M814.3,577.5H725.7M814.3,602.8H725.7M814.3,653.6H770M814.3,755H770M814.3,831.1H725.7M814.3,881.8H770M814.3,932.5H770M814.3,1033.9H770M814.3,1084.7H770M814.3,1186.1H725.7M814.3,1236.8H770
M770,197.1V209.7M725.7,209.7V184.4M770,247.8V260.5M725.7,260.5V285.8M682,184.4V235.1M770,349.2V361.9M725.7,361.9V336.5M725.7,425.3V412.6M682,336.5V387.3M637.7,387.3V311.2M770,476V488.7M725.7,450.7V463.3M770,552.1V539.4M725.7,577.5V564.8M682,564.8V514.1M725.7,602.8V615.5M770,653.6V666.2M725.7,666.2V691.6M682,615.5V640.9M637.7,640.9V590.1M593.7,590.1V438M770,755V767.7M725.7,767.7V742.3M725.7,831.1V818.4M682,742.3V793M770,881.8V894.5M725.7,894.5V869.1M770,932.5V945.2M725.7,945.2V970.5M682,970.5V919.8M637.7,919.8V843.7M593.7,1148.1V995.9M770,1033.9V1046.6M725.7,1046.6V1021.3M770,1084.7V1097.3M725.7,1097.3V1122.7M682,1122.7V1072M725.7,1186.1V1173.4M770,1236.8V1224.1M725.7,1224.1V1249.5M682,1249.5V1198.8M637.7,1198.8V1148.1
M506.7,577.6H523.3V629.8"/>
<path class="rd" d="M199.3,171.7H286M199.3,222.4H241M199.3,273.1H241M199.3,298.5H286M199.3,323.9H286M199.3,374.6H241M199.3,425.3H286M199.3,501.4H241M199.3,526.8H241M199.3,602.8H286M199.3,628.2H241M199.3,704.3H241M199.3,729.6H286M199.3,755H286M199.3,780.3H241M199.3,831.1H286M199.3,932.5H241M199.3,957.9H241M199.3,1008.6H286M199.3,1084.7H241M199.3,1110H241M199.3,1160.7H286M199.3,1186.1H286M199.3,1236.8H241M199.3,1287.5H286
M241,222.4V209.7H286M286,171.7V184.4H329.3M241,273.1V260.5H286M286,298.5V285.8H329.3M329.3,285.8V235.1H373.3M241,374.6V361.9H286M286,323.9V336.5H329.3M286,425.3V412.6H329.3M329.3,336.5V387.3H373.3M373.3,235.1V311.2H418M241,501.4V488.7H286M286,488.7V463.3H329.3M241,526.8V539.4H286M286,539.4V564.8H329.3M329.3,463.3V514.1H373.3M241,628.2V640.9H286M286,602.8V615.5H329.3M241,704.3V691.6H286M286,729.6V716.9H329.3M329.3,716.9V666.2H373.3M373.3,666.2V590.1H418M418,311.2V438H462.3M241,780.3V793H286M286,755V767.7H329.3M286,831.1V843.7H329.3M329.3,843.7V818.4H373.3M241,932.5V919.8H286M286,919.8V894.5H329.3M241,957.9V970.5H286M286,1008.6V995.9H329.3M329.3,995.9V945.2H373.3M373.3,945.2V869.1H418M241,1084.7V1072H286M286,1072V1046.6H329.3M241,1110V1122.7H286M286,1160.7V1148.1H329.3M329.3,1046.6V1097.3H373.3M286,1186.1V1198.8H329.3M241,1236.8V1249.5H286M286,1287.5V1274.9H329.3M329.3,1274.9V1224.1H373.3M373.3,1224.1V1173.4H418M418,1173.4V1021.3H462.3M462.3,1021.3V742.3H488.3V726.1
M813,171.7H725.7M813,222.4H770M813,273.1H770M813,298.5H725.7M813,323.9H725.7M813,374.6H770M813,400H725.7M813,501.4H770M813,526.8H770M813,628.2H725.7M813,678.9H770M813,704.3H725.7M813,729.6H725.7M813,780.3H770M813,805.7H725.7M813,856.4H725.7M813,907.1H770M813,957.9H770M813,983.2H725.7M813,1008.6H725.7M813,1059.3H770M813,1110H770M813,1135.4H725.7M813,1160.7H725.7M813,1211.5H770M813,1262.2H725.7
M770,222.4V209.7H725.7M725.7,171.7V184.4H682M770,273.1V260.5H725.7M725.7,298.5V285.8H682M682,285.8V235.1H637.7M770,374.6V361.9H725.7M725.7,323.9V336.5H682M725.7,400V412.6H682M682,412.6V387.3H637.7M637.7,235.1V311.2H593.7M770,501.4V488.7H725.7M725.7,488.7V463.3H682M770,526.8V539.4H725.7M725.7,539.4V564.8H682M682,463.3V514.1H637.7M725.7,628.2V615.5H682M770,678.9V666.2H725.7M725.7,704.3V691.6H682M682,691.6V640.9H637.7M637.7,514.1V590.1H593.7M593.7,311.2V438H550M770,780.3V767.7H725.7M725.7,729.6V742.3H682M725.7,805.7V818.4H682M682,818.4V793H637.7M770,907.1V894.5H725.7M725.7,856.4V869.1H682M770,957.9V945.2H725.7M725.7,983.2V970.5H682M682,869.1V919.8H637.7M637.7,793V843.7H593.7M593.7,843.7V995.9H550M770,1059.3V1046.6H725.7M725.7,1008.6V1021.3H682M770,1110V1097.3H725.7M725.7,1135.4V1122.7H682M682,1021.3V1072H637.7M725.7,1160.7V1173.4H682M770,1211.5V1224.1H725.7M725.7,1262.2V1249.5H682M682,1173.4V1198.8H637.7M637.7,1072V1148.1H593.7
M550,438V995.9M550,742.3H523.3V726.1
M506.7,561.7V577.6H488.3V628.5"/>
</g>

<g id="venue-guide">
<path class="bk" d="M39,1308.3H975"/>
<rect class="b wh" x="471" y="1302.3" width="73" height="12.2"/>
<text class="c" x="507.5" y="1311.7" font-size="8.5">球場案内</text>
<g id="venue-t1">
<rect class="bk" x="48.6" y="1321" width="220" height="63.5"/><path class="bk" d="M92,1321V1384.5"/>
<text class="ft c" x="70.3" y="1330.6">天童</text><text class="ft c" x="70.3" y="1343.1">山辺</text><text class="ft c" x="70.3" y="1355.6">庄内</text><text class="ft c" x="70.3" y="1368.1">最上</text><text class="ft c" x="70.3" y="1380.6">小国</text>
<text class="co" x="97" y="1330">：</text><text class="co" x="97" y="1342.5">：</text><text class="co" x="97" y="1355">：</text><text class="co" x="97" y="1367.5">：</text><text class="co" x="97" y="1380">：</text>
<text class="ft" x="103" y="1330.6" textLength="156" lengthAdjust="spacingAndGlyphs">天童市スポーツセンター野球場（天童市）</text>
<text class="ft" x="103" y="1343.1">山辺町民野球場（山辺町）</text>
<text class="ft" x="103" y="1355.6">庄内町笠山野球場（庄内町）</text>
<text class="ft" x="103" y="1368.1">最上町西公園野球場（最上町）</text>
<text class="ft" x="103" y="1380.3" font-size="7.5" textLength="155" lengthAdjust="spacingAndGlyphs">小国町民総合スポーツ公園野球場（小国町）</text>
</g>
<g id="venue-t2">
<rect class="bk" x="278" y="1321" width="219.8" height="63.5"/><path class="bk" d="M321,1321V1384.5"/>
<text class="ft c" x="299.5" y="1330.6">山形</text><text class="ft c" x="299.5" y="1343.1">鶴岡</text><text class="ft c" x="299.5" y="1355.6">遊佐</text><text class="ft c" x="299.5" y="1368.1">大蔵</text><text class="ft c" x="299.5" y="1380.6">銀行</text>
<text class="co" x="326" y="1330">：</text><text class="co" x="326" y="1342.5">：</text><text class="co" x="326" y="1355">：</text><text class="co" x="326" y="1367.5">：</text><text class="co" x="326" y="1380">：</text>
<text class="ft" x="333.6" y="1330.3" font-size="7.5" textLength="158" lengthAdjust="spacingAndGlyphs">山形市総合スポーツセンター野球場（山形市）</text>
<text class="ft" x="333.6" y="1343.1">鶴岡市小真木原野球場（鶴岡市）</text>
<text class="ft" x="333.6" y="1355.3" font-size="7.5" textLength="158" lengthAdjust="spacingAndGlyphs">サンスポーツランド遊佐野球場（遊佐町）</text>
<text class="ft" x="333.6" y="1368.1">大蔵村野球場（大蔵村）</text>
<text class="ft" x="333.6" y="1380.6">きらやか銀行野球場（中山町）</text>
</g>
<g id="venue-t3">
<rect class="bk" x="516" y="1321" width="220" height="63.5"/><path class="bk" d="M559.7,1321V1384.5"/>
<text class="ft c" x="537.9" y="1330.6">総合</text><text class="ft c" x="537.9" y="1343.1">酒田</text><text class="ft c" x="537.9" y="1355.6">新庄</text><text class="ft c" x="537.9" y="1368.1">南陽</text><text class="ft c" x="537.9" y="1380.6">山形県</text>
<text class="co" x="565" y="1330">：</text><text class="co" x="565" y="1342.5">：</text><text class="co" x="565" y="1355">：</text><text class="co" x="565" y="1367.5">：</text><text class="co" x="565" y="1380">：</text>
<text class="ft" x="572" y="1330.6">山形県総合運動公園野球場（天童市）</text>
<text class="ft" x="572" y="1343.1">酒田市光ケ丘野球場（酒田市）</text>
<text class="ft" x="572" y="1355.6">新庄市民球場（新庄市）</text>
<text class="ft" x="572" y="1368.1">南陽市向山公園野球場（南陽市）</text>
<text class="ft" x="572" y="1380.6">山形県野球場（中山町）</text>
</g>
<g id="venue-t4">
<rect class="bk" x="745.6" y="1321" width="223" height="63.5"/><path class="bk" d="M792,1321V1384.5"/>
<text class="ft c" x="768.8" y="1330.6">上山</text><text class="ft c" x="768.8" y="1343.1">櫛引</text><text class="ft c" x="768.8" y="1355.6">尾花沢</text><text class="ft c" x="768.8" y="1368.1">高畠</text><text class="ft c" x="768.8" y="1380.6">第二</text>
<text class="co" x="797" y="1330">：</text><text class="co" x="797" y="1342.5">：</text><text class="co" x="797" y="1355">：</text><text class="co" x="797" y="1367.5">：</text><text class="co" x="797" y="1380">：</text>
<text class="ft" x="803" y="1330.6">上山市民球場（上山市）</text>
<text class="ft" x="803" y="1343.1">櫛引総合運動公園野球場（鶴岡市）</text>
<text class="ft" x="803" y="1355.6">尾花沢総合球場（尾花沢市）</text>
<text class="ft" x="803" y="1368.1">高畠町野球場（高畠町）</text>
<text class="ft" x="803" y="1380.6">山形県第二野球場</text>
</g>
<rect class="bk" x="39.3" y="1390.5" width="935.7" height="6.5"/>
</g>
</svg>
